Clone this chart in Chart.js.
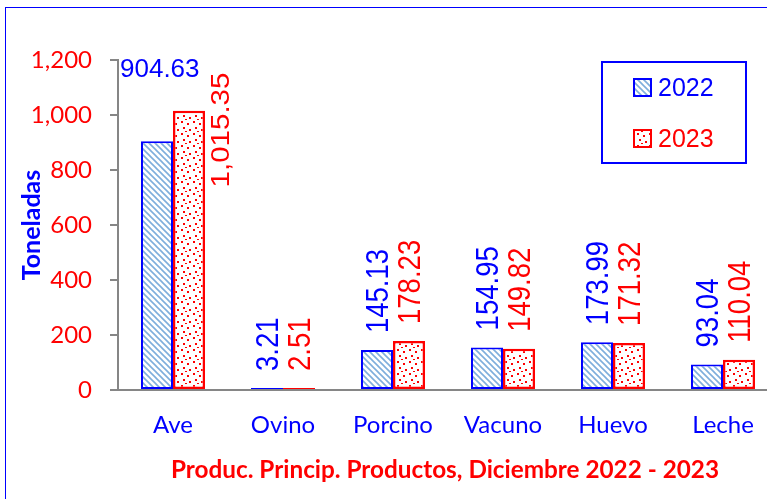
<!DOCTYPE html>
<html><head><meta charset="utf-8">
<script src="https://cdn.jsdelivr.net/npm/chart.js@4"></script>
<style>
html,body{margin:0;padding:0;background:#fff;overflow:hidden;width:767px;height:499px;position:relative}
#frame{position:absolute;left:5px;top:7px;width:900px;height:700px;border:1px solid #0000FF;box-sizing:border-box}
#wrap{position:absolute;left:0;top:0;width:790px;height:499px}
</style></head><body>
<div id="frame"></div>
<div id="wrap"><canvas id="c" width="790" height="499"></canvas></div>
<script>
const categories = ['Ave','Ovino','Porcino','Vacuno','Huevo','Leche'];
const seriesNames = ['2022','2023'];
const values2022 = [904.63, 3.21, 145.13, 154.95, 173.99, 93.04];
const values2023 = [1015.35, 2.51, 178.23, 149.82, 171.32, 110.04];
const yTicks = [0, 200, 400, 600, 800, 1000, 1200];
const chartTitle = 'Produc. Princip. Productos, Diciembre 2022 - 2023';
const yTitle = 'Toneladas';

const BLUE = '#0000FF', RED = '#FF0000', GRAY = '#868686';
const canvas = document.getElementById('c');
const mctx = canvas.getContext('2d');

function hatchPattern(){
  const c = document.createElement('canvas'); c.width = 6; c.height = 6;
  const g = c.getContext('2d');
  g.fillStyle = '#fff'; g.fillRect(0,0,6,6);
  g.strokeStyle = '#7EAEDC'; g.lineWidth = 1.6;
  g.beginPath();
  g.moveTo(-1,-1); g.lineTo(7,7);
  g.moveTo(5,-1); g.lineTo(7,1);
  g.moveTo(-1,5); g.lineTo(1,7);
  g.stroke();
  return mctx.createPattern(c,'repeat');
}
function dotPattern(){
  const c = document.createElement('canvas'); c.width = 12; c.height = 12;
  const g = c.getContext('2d');
  g.fillStyle = '#fff'; g.fillRect(0,0,12,12);
  g.fillStyle = RED;
  [[1,1],[7,3],[3,7],[9,9],[5,11]].forEach(p => g.fillRect(p[0],p[1],2,2));
  return mctx.createPattern(c,'repeat');
}
const fills = [hatchPattern(), dotPattern()];
const colors = [BLUE, RED];
const borderWidths = [2, 2.5];

function fmt(v){ return v.toLocaleString('en-US',{minimumFractionDigits:2, maximumFractionDigits:2}); }

const labelPlugin = {
  id: 'valueLabels',
  afterDatasetsDraw(chart){
    const ctx = chart.ctx, area = chart.chartArea;
    chart.data.datasets.forEach((ds, di) => {
      const meta = chart.getDatasetMeta(di);
      meta.data.forEach((bar, i) => {
        const txt = fmt(ds.data[i]);
        ctx.save();
        ctx.fillStyle = colors[di];
        ctx.textAlign = 'left'; ctx.textBaseline = 'alphabetic';
        const fs = 32, sx = 0.86;
        ctx.font = fs + 'px "Liberation Sans", Arial, sans-serif';
        const len = ctx.measureText(txt).width * sx;
        const start = bar.y - 17;
        if (start - len >= area.top) {
          ctx.translate(bar.x + 0.358 * fs, start);
          ctx.rotate(-Math.PI/2);
          ctx.scale(sx, 1);
          ctx.fillText(txt, 0, 0);
        } else if (di === 0) {
          ctx.font = '26px "Liberation Sans", Arial, sans-serif';
          ctx.fillText(txt, area.left + 2, area.top + 17);
        } else {
          const f2 = 25, s2 = 1.18;
          ctx.font = f2 + 'px "Liberation Sans", Arial, sans-serif';
          const l2 = ctx.measureText(txt).width * s2;
          const cx = bar.x + bar.width/2 + 15;
          ctx.translate(cx + 0.358 * f2, area.top + 70 + l2/2);
          ctx.rotate(-Math.PI/2);
          ctx.scale(s2, 1);
          ctx.fillText(txt, 0, 0);
        }
        ctx.restore();
      });
    });
  }
};

const legendPlugin = {
  id: 'boxLegend',
  afterDraw(chart){
    const ctx = chart.ctx;
    ctx.save();
    ctx.strokeStyle = BLUE; ctx.lineWidth = 2;
    ctx.strokeRect(602, 62, 144, 101);
    chart.data.datasets.forEach((ds, di) => {
      const y = 79 + di * 51;
      ctx.fillStyle = fills[di];
      ctx.fillRect(634, y, 17, 17);
      ctx.strokeStyle = colors[di]; ctx.lineWidth = 2;
      ctx.strokeRect(634, y, 17, 17);
      ctx.fillStyle = colors[di];
      ctx.font = '25px "Liberation Sans", Arial, sans-serif';
      ctx.textAlign = 'left'; ctx.textBaseline = 'alphabetic';
      ctx.fillText(ds.label, 658, y + 17);
    });
    // bottom title
    ctx.fillStyle = RED;
    ctx.font = 'bold 24.3px Lato, "Liberation Sans", sans-serif';
    ctx.textAlign = 'center'; ctx.textBaseline = 'middle';
    ctx.fillText(chartTitle, 445, 470);
    ctx.restore();
  }
};

new Chart(canvas, {
  type: 'bar',
  data: {
    labels: categories,
    datasets: [
      { label: seriesNames[0], data: values2022, backgroundColor: fills[0], borderColor: colors[0], borderWidth: borderWidths[0], borderSkipped: false, minBarLength: 2 },
      { label: seriesNames[1], data: values2023, backgroundColor: fills[1], borderColor: colors[1], borderWidth: borderWidths[1], borderSkipped: false, minBarLength: 2 }
    ]
  },
  options: {
    responsive: false,
    animation: false,
    devicePixelRatio: 1,
    categoryPercentage: 0.582,
    barPercentage: 1.0,
    layout: { padding: { top: 60, left: 0, right: 12, bottom: 41.6 } },
    plugins: {
      legend: { display: false },
      tooltip: { enabled: false },
      title: { display: false }
    },
    scales: {
      x: {
        grid: { display: false, drawTicks: false },
        border: { display: true, color: GRAY, width: 2 },
        ticks: { color: BLUE, font: { family: 'Lato', size: 24 }, padding: 21, autoSkip: false, maxRotation: 0 },
        afterFit(s){ s.height = 67.4; }
      },
      y: {
        min: 0, max: 1200,
        afterBuildTicks(s){ s.ticks = yTicks.map(v => ({ value: v })); },
        grid: { drawOnChartArea: false, drawTicks: true, tickLength: 8, color: GRAY, lineWidth: 2 },
        border: { display: true, color: GRAY, width: 2 },
        ticks: { color: RED, font: { family: 'Lato', size: 24 }, padding: 18, callback: v => v.toLocaleString('en-US') },
        title: { display: true, text: yTitle, color: BLUE, font: { family: 'Lato', weight: 'bold', size: 25 }, padding: { top: 17, bottom: 0 } },
        afterFit(s){ s.width = 118; }
      }
    }
  },
  plugins: [labelPlugin, legendPlugin]
});
</script>
</body></html>
